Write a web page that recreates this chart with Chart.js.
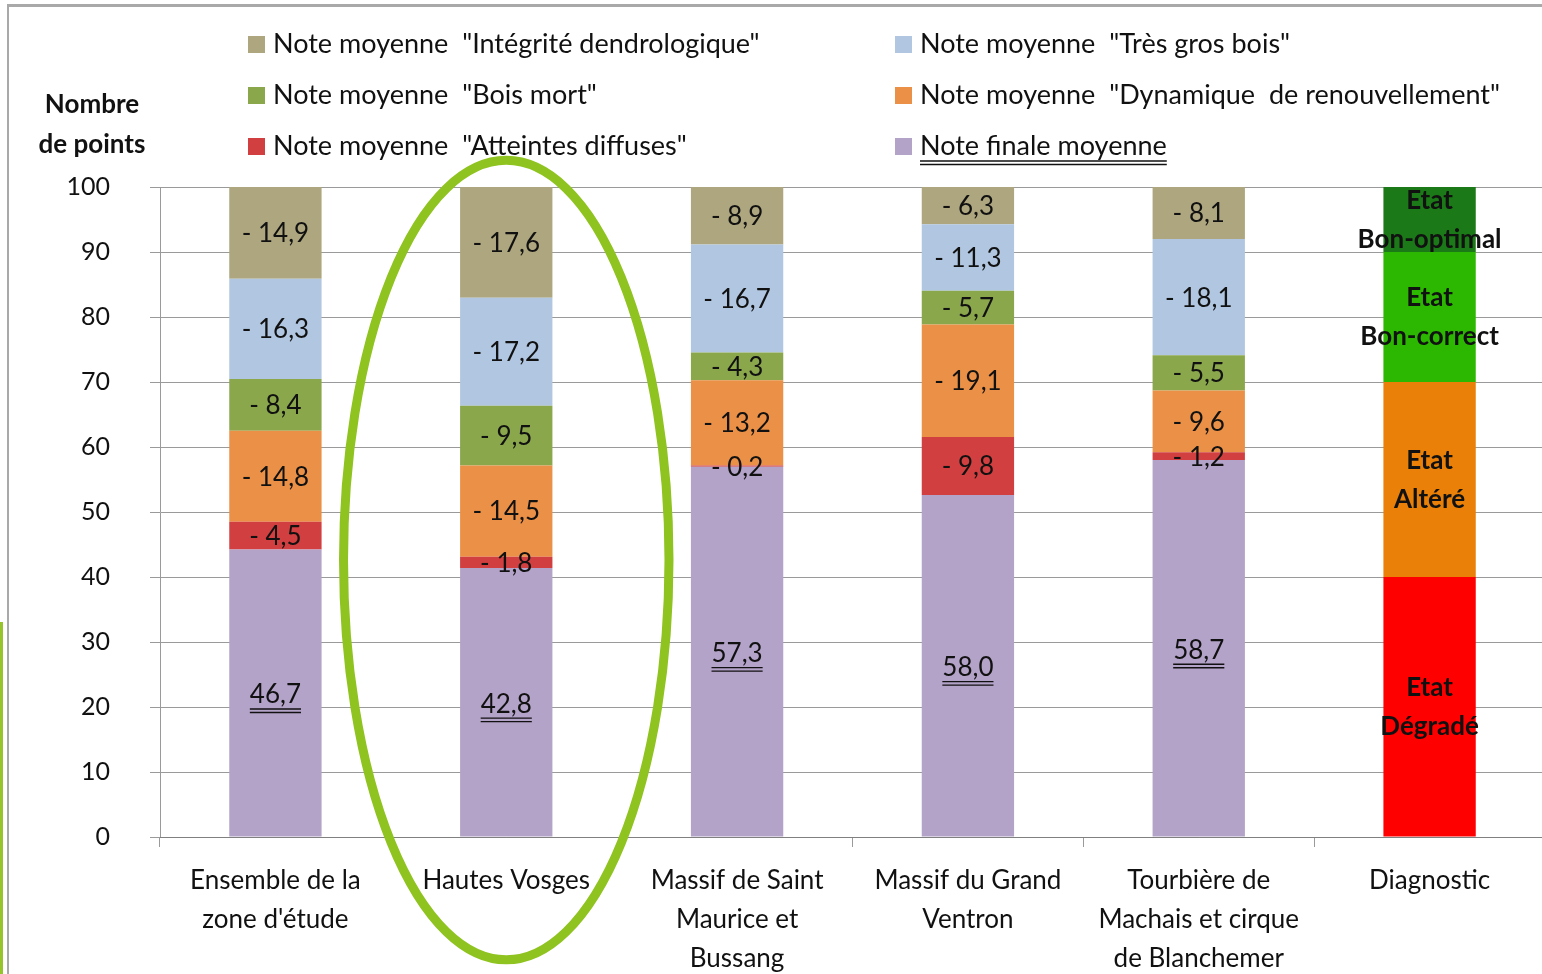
<!DOCTYPE html>
<html lang="fr">
<head>
<meta charset="utf-8">
<title>Notes moyennes par secteur</title>
<script src="https://cdn.jsdelivr.net/npm/chart.js@4.4.1/dist/chart.umd.min.js"></script>
<style>
    html, body { margin: 0; padding: 0; background: #fff; overflow: hidden; }
    #wrap { position: relative; width: 1542px; height: 974px; overflow: hidden; }
    #cadre { position: absolute; left: 7px; top: 4px; right: -10px; bottom: -10px; border-top: 3px solid #a9a9a9; border-left: 2px solid #a9a9a9; }
    #trait-vert { position: absolute; left: 0; top: 622px; width: 3px; height: 352px; background: #95c52a; }
    canvas { position: absolute; left: 0; top: 0; }
</style>
</head>
<body>
<div id="wrap">
    <div id="cadre"></div>
    <div id="trait-vert"></div>
    <canvas id="chart" width="1545" height="974"></canvas>
</div>
<script>
// Valeurs (notes brutes ; Excel les ramène à 100 %)
var CATEGORIES = [
    ["Ensemble de la", "zone d'étude"],
    ["Hautes Vosges"],
    ["Massif de Saint", "Maurice et", "Bussang"],
    ["Massif du Grand", "Ventron"],
    ["Tourbière de", "Machais et cirque", "de Blanchemer"],
    ["Diagnostic"]
];
var NOTE_FINALE   = [46.7, 42.8, 57.3, 58.0, 58.7];
var ATTEINTES     = [4.5, 1.8, 0.2, 9.8, 1.2];
var DYNAMIQUE     = [14.8, 14.5, 13.2, 19.1, 9.6];
var BOIS_MORT     = [8.4, 9.5, 4.3, 5.7, 5.5];
var TRES_GROS     = [16.3, 17.2, 16.7, 11.3, 18.1];
var INTEGRITE     = [14.9, 17.6, 8.9, 6.3, 8.1];

// Bandes du diagnostic (de bas en haut)
var ETATS         = [["Etat", "Dégradé"], ["Etat", "Altéré"], ["Etat", "Bon-correct"], ["Etat", "Bon-optimal"]];
var ETATS_HAUTEUR = [40, 30, 20, 10];

var Y_TICKS = [0, 10, 20, 30, 40, 50, 60, 70, 80, 90, 100];

(function () {
    "use strict";

    var POLICE = "Lato, 'Open Sans', sans-serif";
    var NOIR = "#111";
    var GRILLE = "rgba(120,120,120,0.75)";

    var SERIES = [
        { nom: "Note finale moyenne", val: NOTE_FINALE, cor: "#b4a3c9", finale: true },
        { nom: "Note moyenne  \"Atteintes diffuses\"", val: ATTEINTES, cor: "#d13f40" },
        { nom: "Note moyenne  \"Dynamique  de renouvellement\"", val: DYNAMIQUE, cor: "#eb9147" },
        { nom: "Note moyenne  \"Bois mort\"", val: BOIS_MORT, cor: "#8aa74c" },
        { nom: "Note moyenne  \"Très gros bois\"", val: TRES_GROS, cor: "#b1c7e1" },
        { nom: "Note moyenne  \"Intégrité dendrologique\"", val: INTEGRITE, cor: "#aea67f" }
    ];
    var ETATS_CORES = ["#ff0000", "#ea8008", "#2cb800", "#1b7a17"];

    var nbZones = NOTE_FINALE.length;

    // total brut par zone -> empilement 100 %
    var totais = [];
    for (var i = 0; i < nbZones; i++) {
        var t = 0;
        SERIES.forEach(function (s) { t += s.val[i]; });
        totais.push(t);
    }

    var datasets = SERIES.map(function (s) {
        var d = s.val.map(function (v, i) { return v * 100 / totais[i]; });
        d.push(null);
        return {
            label: s.nom, data: d, brut: s.val, finale: !!s.finale,
            backgroundColor: s.cor, stack: "s", barPercentage: 0.4, categoryPercentage: 1
        };
    });
    ETATS_HAUTEUR.forEach(function (h, k) {
        var d = [];
        for (var i = 0; i < nbZones; i++) d.push(null);
        d.push(h);
        datasets.push({
            label: ETATS[k].join(" "), data: d, etat: ETATS[k], diagnostic: true,
            backgroundColor: ETATS_CORES[k], stack: "s", barPercentage: 0.4, categoryPercentage: 1
        });
    });

    function fmt(v) { return v.toFixed(1).replace(".", ","); }

    function souligne(ctx, x, y, w, double) {
        ctx.save();
        ctx.strokeStyle = NOIR;
        ctx.lineWidth = 1.3;
        ctx.beginPath();
        ctx.moveTo(x - w / 2, y); ctx.lineTo(x + w / 2, y);
        if (double) { ctx.moveTo(x - w / 2, y + 3.5); ctx.lineTo(x + w / 2, y + 3.5); }
        ctx.stroke();
        ctx.restore();
    }

    // étiquettes des segments + textes du diagnostic
    var etiquettes = {
        id: "etiquettes",
        afterDraw: function (chart) {
            var ctx = chart.ctx;
            ctx.save();
            ctx.textAlign = "center";
            ctx.textBaseline = "middle";
            ctx.fillStyle = NOIR;
            chart.data.datasets.forEach(function (ds, di) {
                var meta = chart.getDatasetMeta(di);
                meta.data.forEach(function (bar, i) {
                    if (ds.data[i] === null) return;
                    var yc = (bar.y + bar.base) / 2;
                    if (ds.diagnostic) {
                        ctx.font = "bold 26px " + POLICE;
                        ctx.fillText(ds.etat[0], bar.x, yc - 19);
                        ctx.fillText(ds.etat[1], bar.x, yc + 20);
                        return;
                    }
                    ctx.font = "26px " + POLICE;
                    if (ds.finale) {
                        var txt = fmt(ds.brut[i]);
                        ctx.fillText(txt, bar.x, yc + 2);
                        souligne(ctx, bar.x, yc + 16, ctx.measureText(txt).width, true);
                    } else {
                        ctx.fillText("- " + fmt(ds.brut[i]), bar.x, yc + 1);
                    }
                });
            });
            ctx.restore();
        }
    };

    // légende sur deux colonnes, titre de l'axe et ellipse verte
    var decor = {
        id: "decor",
        afterDraw: function (chart) {
            var ctx = chart.ctx;
            var a = chart.chartArea;
            var ordre = [5, 4, 3, 2, 1, 0]; // de haut en bas de la pile
            ctx.save();
            ctx.font = "27px " + POLICE;
            ctx.textBaseline = "middle";
            ctx.textAlign = "left";
            ordre.forEach(function (di, k) {
                var ds = chart.data.datasets[di];
                var x = a.left + 88 + (k % 2) * 647;
                var y = a.top - 143 + Math.floor(k / 2) * 51;
                ctx.fillStyle = ds.backgroundColor;
                ctx.fillRect(x, y - 8, 17, 17);
                ctx.fillStyle = NOIR;
                ctx.fillText(ds.label, x + 25, y);
                if (ds.finale) souligne(ctx, x + 25 + ctx.measureText(ds.label).width / 2, y + 15, ctx.measureText(ds.label).width, true);
            });

            ctx.font = "bold 26px " + POLICE;
            ctx.textAlign = "center";
            ctx.fillText("Nombre", a.left - 68, a.top - 82);
            ctx.fillText("de points", a.left - 68, a.top - 42);

            var xs = chart.scales.x, ys = chart.scales.y;
            var cx = xs.getPixelForValue(1);
            var cy = ys.getPixelForValue(42.6);
            var rx = (xs.getPixelForValue(1) - xs.getPixelForValue(0)) * 0.705;
            var ry = ys.getPixelForValue(0) - ys.getPixelForValue(61.5);
            ctx.strokeStyle = "#8fc31f";
            ctx.lineWidth = 9;
            ctx.beginPath();
            ctx.ellipse(cx, cy, rx, ry, 0, 0, Math.PI * 2);
            ctx.stroke();
            ctx.restore();
        }
    };

    new Chart(document.getElementById("chart"), {
        type: "bar",
        data: { labels: CATEGORIES, datasets: datasets },
        options: {
            responsive: false,
            animation: false,
            layout: { padding: { top: 187, right: 0, bottom: 0, left: 0 } },
            plugins: { legend: { display: false }, tooltip: { enabled: false } },
            scales: {
                x: {
                    stacked: true,
                    grid: { offset: true, drawOnChartArea: false, tickLength: 10, color: GRILLE },
                    border: { color: GRILLE },
                    ticks: { color: NOIR, font: { family: POLICE, size: 26, lineHeight: 1.5 }, padding: 14, maxRotation: 0, autoSkip: false },
                    afterFit: function (s) { s.height = 137; }
                },
                y: {
                    stacked: true, min: 0, max: 100, z: 1,
                    afterBuildTicks: function (s) { s.ticks = Y_TICKS.map(function (v) { return { value: v }; }); },
                    grid: { color: GRILLE, tickLength: 10 },
                    border: { color: GRILLE },
                    ticks: { color: NOIR, font: { family: POLICE, size: 25 }, padding: 40 },
                    afterFit: function (s) { s.width = 160; }
                }
            }
        },
        plugins: [etiquettes, decor]
    });
})();
</script>
</body>
</html>
